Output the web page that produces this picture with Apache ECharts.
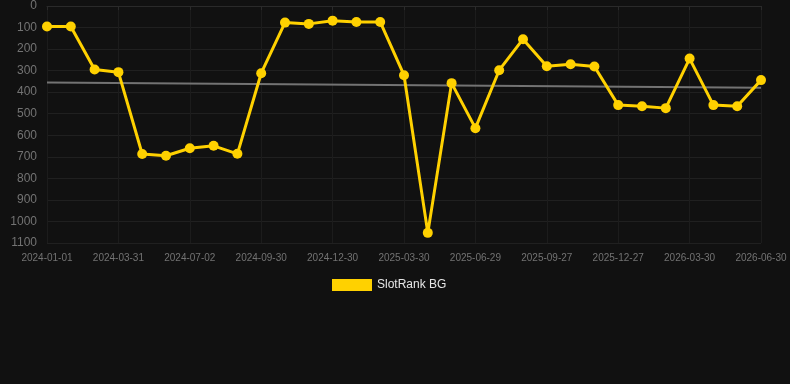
<!DOCTYPE html>
<html>
<head>
<meta charset="utf-8">
<script src="https://cdn.jsdelivr.net/npm/echarts@6/dist/echarts.min.js"></script>
<style>
  html, body { margin: 0; padding: 0; background: #111111; }
  #chart { width: 790px; height: 384px; }
</style>
</head>
<body>
<div id="chart"></div>
<script>
// x categories (one per ~month)
const dates = [
  '2024-01-01', '2024-01-31', '2024-03-01', '2024-03-31', '2024-05-01', '2024-06-01',
  '2024-07-02', '2024-08-01', '2024-08-31', '2024-09-30', '2024-10-31', '2024-11-30',
  '2024-12-30', '2025-01-29', '2025-02-28', '2025-03-30', '2025-04-29', '2025-05-30',
  '2025-06-29', '2025-07-29', '2025-08-28', '2025-09-27', '2025-10-28', '2025-11-27',
  '2025-12-27', '2026-01-27', '2026-02-27', '2026-03-30', '2026-04-30', '2026-05-31',
  '2026-06-30'
]

// rank values
const rankBG = [
  95, 95, 295, 307, 687, 695, 660, 649, 686, 312,
  77, 83, 68, 74, 74, 321, 1053, 358, 567, 298,
  154, 280, 270, 281, 460, 465, 474, 244, 460, 465,
  344
]

// trend line end points
const trendStart = 355
const trendEnd = 380

const chart = echarts.init(document.getElementById('chart'))

const option = {
  backgroundColor: '#111111',
  animation: false,
  grid: {
    left: 47,
    right: 29,
    top: 6,
    bottom: 141
  },
  legend: {
    top: 274,
    left: 327,
    icon: 'rect',
    itemWidth: 40,
    itemHeight: 12,
    itemGap: 10,
    data: ['SlotRank BG'],
    textStyle: { color: '#e6e6e6', fontSize: 12, fontFamily: 'Liberation Sans, Arial, sans-serif' }
  },
  xAxis: {
    type: 'category',
    data: dates,
    boundaryGap: false,
    axisLine: { show: true, lineStyle: { color: '#2a2a2a' } },
    axisTick: { show: true, interval: 2, length: 4, lineStyle: { color: '#2a2a2a' } },
    axisLabel: {
      interval: 2,
      color: '#737373',
      fontSize: 10,
      margin: 10,
      fontFamily: 'Liberation Sans, Arial, sans-serif'
    },
    splitLine: { show: true, interval: 2, lineStyle: { color: '#1c1c1c' } }
  },
  yAxis: {
    type: 'value',
    inverse: true,
    min: 0,
    max: 1100,
    interval: 100,
    axisLine: { show: false },
    axisTick: { show: false },
    axisLabel: {
      color: '#737373',
      fontSize: 12,
      margin: 10,
      formatter: v => String(v),
      fontFamily: 'Liberation Sans, Arial, sans-serif'
    },
    splitLine: { lineStyle: { color: '#202020' } }
  },
  series: [
    {
      name: 'SlotRank BG',
      type: 'line',
      data: rankBG,
      symbol: 'circle',
      symbolSize: 10,
      lineStyle: { color: '#ffd100', width: 3 },
      itemStyle: { color: '#ffd100' },
      z: 3
    },
    {
      name: 'Trend',
      type: 'line',
      data: [[0, trendStart], [dates.length - 1, trendEnd]],
      symbol: 'none',
      lineStyle: { color: '#737373', width: 2 },
      z: 2
    }
  ]
}

chart.setOption(option)
</script>
</body>
</html>
